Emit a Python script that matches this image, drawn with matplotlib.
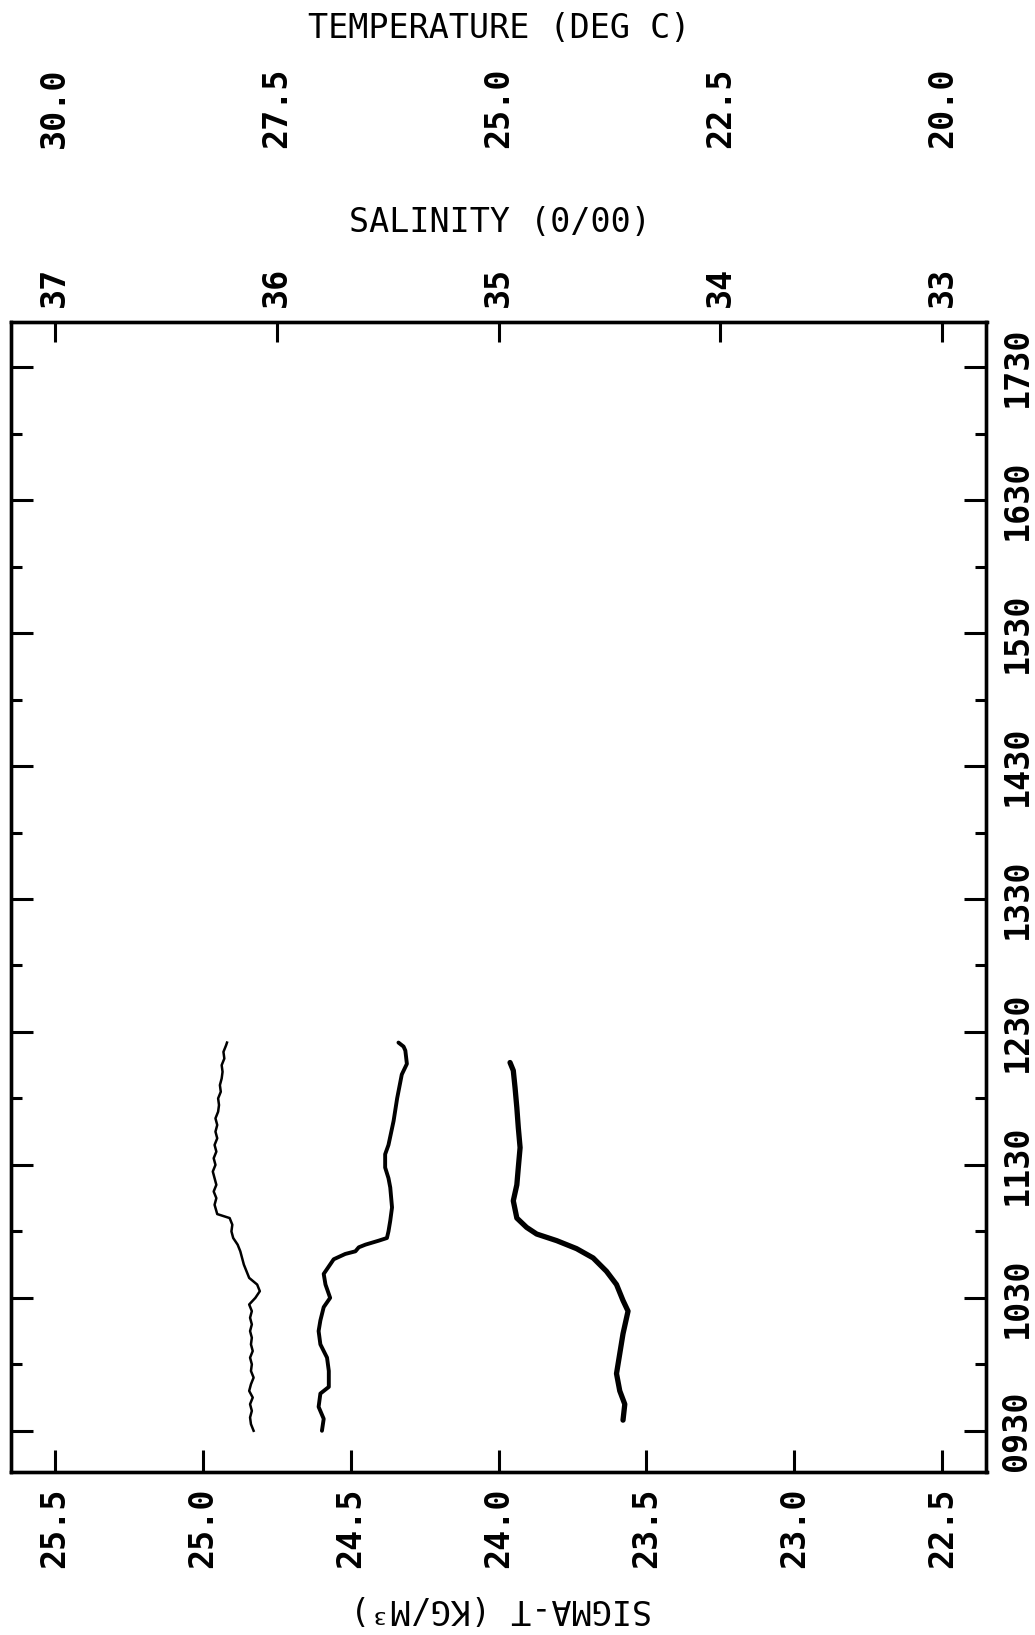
import matplotlib
matplotlib.use("Agg")
import matplotlib.pyplot as plt
from matplotlib.ticker import FixedLocator

plt.rcParams['font.family'] = ['DejaVu Sans Mono', 'DejaVu Sans']

# temperature record (deg C) vs time of day (decimal hours)
temp_time = [9.50, 9.55, 9.60, 9.65, 9.70, 9.75, 9.80, 9.85, 9.90, 9.95,
             10.00, 10.05, 10.10, 10.15, 10.20, 10.25, 10.30, 10.35, 10.40, 10.45,
             10.50, 10.55, 10.60, 10.65, 10.70, 10.75, 10.80, 10.85, 10.90, 10.95,
             11.00, 11.05, 11.10, 11.13, 11.20, 11.25, 11.30, 11.35, 11.40, 11.45,
             11.50, 11.55, 11.60, 11.65, 11.70, 11.75, 11.80, 11.85, 11.90, 11.95,
             12.00, 12.05, 12.10, 12.15, 12.20, 12.25, 12.30, 12.35, 12.40, 12.42]
temperature = [27.76, 27.79, 27.80, 27.78, 27.80, 27.77, 27.81, 27.79, 27.76, 27.79,
               27.78, 27.80, 27.77, 27.79, 27.78, 27.80, 27.78, 27.80, 27.78, 27.81,
               27.74, 27.69, 27.72, 27.81, 27.84, 27.87, 27.89, 27.91, 27.94, 27.99,
               28.01, 28.00, 28.03, 28.17, 28.20, 28.18, 28.21, 28.18, 28.20, 28.22,
               28.19, 28.21, 28.18, 28.20, 28.17, 28.19, 28.17, 28.19, 28.16, 28.15,
               28.16, 28.13, 28.14, 28.12, 28.11, 28.12, 28.09, 28.10, 28.07, 28.06]

# salinity record (0/00)
sal_time = [9.50, 9.59, 9.68, 9.78, 9.83, 9.95, 10.05, 10.15, 10.25, 10.33,
            10.43, 10.50, 10.60, 10.68, 10.79, 10.83, 10.85, 10.88, 10.90, 10.93,
            10.95, 11.00, 11.08, 11.18, 11.33, 11.40, 11.48, 11.58, 11.65, 11.83,
            12.00, 12.18, 12.26, 12.36, 12.39, 12.42]
salinity = [35.796, 35.788, 35.811, 35.803, 35.765, 35.765, 35.773, 35.803, 35.811, 35.803,
            35.788, 35.759, 35.780, 35.788, 35.743, 35.691, 35.645, 35.630, 35.600, 35.540,
            35.503, 35.496, 35.488, 35.480, 35.488, 35.496, 35.511, 35.511, 35.496, 35.473,
            35.457, 35.436, 35.413, 35.420, 35.428, 35.451]

# sigma-t record (kg/m3)
sig_time = [9.58, 9.70, 9.80, 9.93, 10.08, 10.23, 10.40, 10.48, 10.60, 10.70,
            10.80, 10.87, 10.93, 10.98, 11.03, 11.10, 11.23, 11.35, 11.48, 11.63,
            11.78, 11.93, 12.08, 12.21, 12.27]
sigma_t = [23.579, 23.573, 23.590, 23.601, 23.590, 23.579, 23.562, 23.579, 23.601, 23.635,
           23.680, 23.736, 23.803, 23.871, 23.905, 23.938, 23.950, 23.938, 23.933, 23.927,
           23.933, 23.938, 23.944, 23.950, 23.961]

sigma_ticks = [25.5, 25.0, 24.5, 24.0, 23.5, 23.0, 22.5]
sal_ticks = [37, 36, 35, 34, 33]
temp_ticks = [30.0, 27.5, 25.0, 22.5, 20.0]
time_ticks = [9.5, 10.5, 11.5, 12.5, 13.5, 14.5, 15.5, 16.5, 17.5]
time_labels = ['0930', '1030', '1130', '1230', '1330', '1430', '1530', '1630', '1730']
time_minor = [10, 11, 12, 13, 14, 15, 16, 17]

W, H = 1035, 1635
fig = plt.figure(figsize=(W / 100, H / 100), dpi=100)
ax = fig.add_axes([10.5 / W, 163 / H, 976 / W, 1150 / H])

# sigma-t axis (bottom), the frame of the plot
ax.set_xlim(25.65, 22.35)
ax.set_ylim(9.19, 17.84)
ax.plot(sigma_t, sig_time, color='black', lw=3.8, solid_capstyle='round')
for s in ax.spines.values():
    s.set_linewidth(2.4)
ax.set_xticks(sigma_ticks)
ax.set_xticklabels(['%.1f' % v for v in sigma_ticks], rotation=90, va='top', fontweight='bold')
ax.tick_params(axis='x', direction='in', length=16, width=2.2, pad=11, labelsize=24)

# time axis (right side labels, ticks both sides)
ax.set_yticks(time_ticks)
ax.set_yticklabels(time_labels, rotation=90, va='center', fontweight='bold')
ax.yaxis.set_minor_locator(FixedLocator(time_minor))
ax.tick_params(axis='y', which='major', direction='in', length=16, width=2.2,
               left=True, right=True, labelleft=False, labelright=True, pad=10, labelsize=24)
ax.tick_params(axis='y', which='minor', direction='in', length=8, width=2.2,
               left=True, right=True)

# salinity axis (top)
ax_sal = ax.twiny()
ax_sal.set_xlim(37.2, 32.8)
ax_sal.plot(salinity, sal_time, color='black', lw=2.8, solid_capstyle='round')
ax_sal.set_xticks(sal_ticks)
ax_sal.set_xticklabels([str(v) for v in sal_ticks], rotation=90, va='bottom', fontweight='bold')
ax_sal.tick_params(axis='x', direction='in', length=14.5, width=2.2, pad=10.5, labelsize=24)
for s in ax_sal.spines.values():
    s.set_linewidth(2.4)

# temperature axis (labels only, above salinity)
ax_t = ax.twiny()
ax_t.set_xlim(30.5, 19.5)
ax_t.plot(temperature, temp_time, color='black', lw=1.8)
ax_t.spines['top'].set_position(('axes', 1.1513))
for s in ax_t.spines.values():
    s.set_visible(False)
ax_t.set_xticks(temp_ticks)
ax_t.set_xticklabels(['%.1f' % v for v in temp_ticks], rotation=90, va='bottom', fontweight='bold')
ax_t.tick_params(axis='x', length=0, pad=0, labelsize=24)

fig.text(499.5 / W, 1 - 28 / H, 'TEMPERATURE (DEG C)', ha='center', va='center', fontsize=24)
fig.text(499.5 / W, 1 - 222 / H, 'SALINITY (0/00)', ha='center', va='center', fontsize=24)
fig.text(501 / W, 1 - 1608 / H, 'SIGMA-T (KG/M³)', ha='center', va='center', fontsize=24,
         rotation=180)

fig.savefig('out.png', dpi=100)
